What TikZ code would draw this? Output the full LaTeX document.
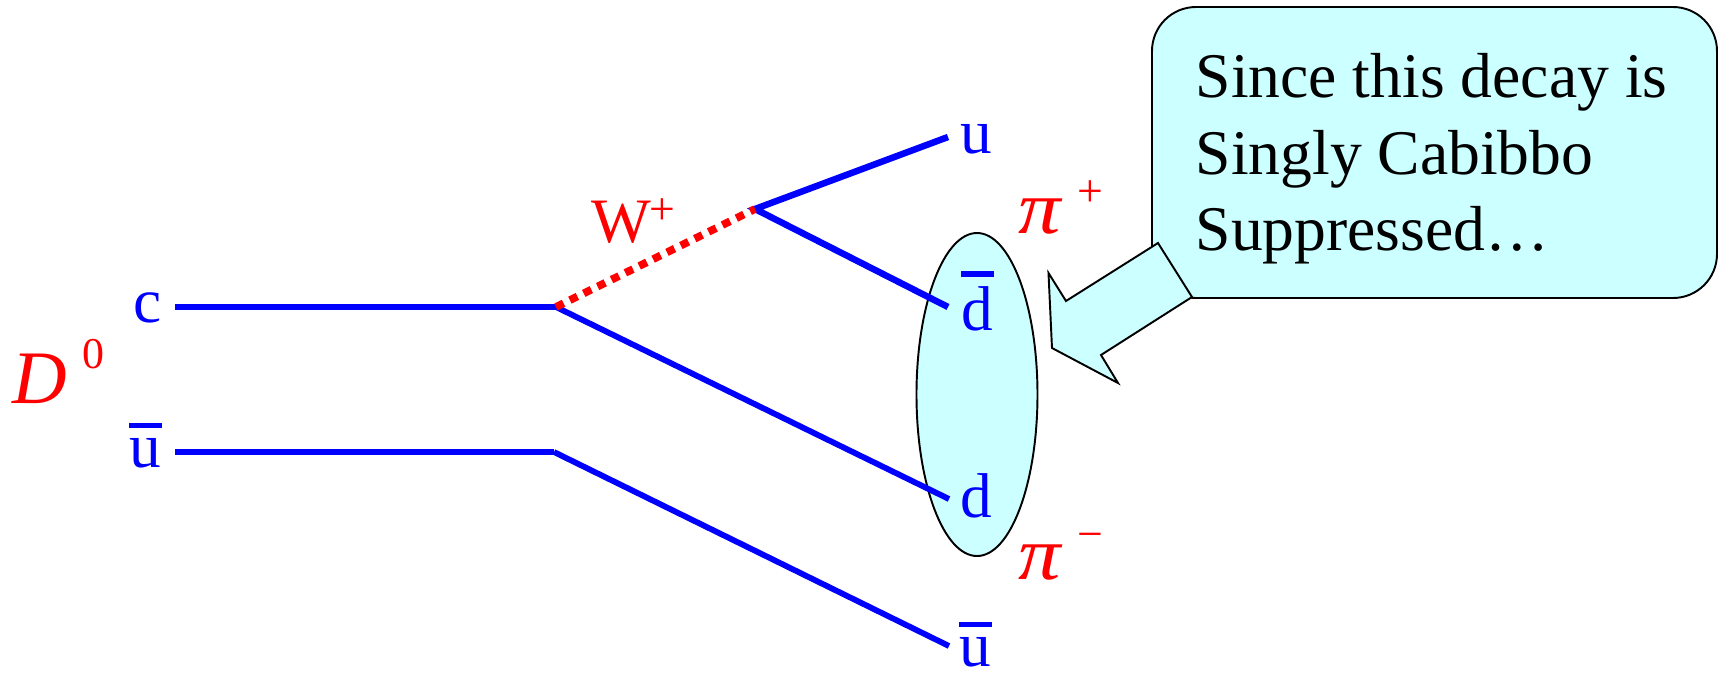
\documentclass[tikz,border=0pt]{standalone}
\usepackage{fontspec}
\setmainfont{Liberation Serif}
\usetikzlibrary{shapes.geometric}
\definecolor{palecyan}{HTML}{CCFFFF}
\newcommand{\barred}[2]{\rlap{\hspace{-0.2pt}\rule[#1]{9.4pt}{1.5pt}}#2}
\tikzset{
	quark/.style={blue,inner sep=0pt,anchor=base west,font=\fontsize{18}{20}\selectfont},
	meson/.style={red,inner sep=0pt,anchor=base west,font=\fontsize{21.5}{24}\selectfont\itshape},
	charge/.style={red,inner sep=0pt,anchor=base west,font=\fontsize{13}{15}\selectfont},
	outline/.style={draw=black,fill=palecyan,line width=0.55pt},
	fermion/.style={blue,line width=1.85pt},
	spectator/.style={blue,line width=1.65pt},
}
\begin{document}
\begin{tikzpicture}[line cap=butt,line join=miter]
	\useasboundingbox (0,0) rectangle (17.19,-6.72);
	\node[outline,ellipse,inner sep=0pt,minimum width=1.21cm,minimum height=3.23cm] (pion) at (9.77,-3.945) {};
	\node[outline,rectangle,rounded corners=0.44cm,inner sep=0pt,minimum width=5.65cm,minimum height=2.91cm] (callout) at (14.345,-1.525) {};
	\draw[outline,line join=miter] (11.58,-2.43) -- (10.66,-3.01) -- (10.485,-2.73) -- (10.52,-3.48)
	-- (11.18,-3.83) -- (11.01,-3.55) -- (11.92,-2.97) -- cycle;
	\node[inner sep=0pt,anchor=west,align=left,font=\fontsize{18.1}{21.8}\selectfont] (note) at (11.95,-1.59)
	{Since this decay is\\Singly Cabibbo\\Suppressed…};
	\coordinate (cstart) at (1.75,-3.07);
	\coordinate (ustart) at (1.75,-4.52);
	\coordinate (cvertex) at (5.56,-3.07);
	\coordinate (uvertex) at (5.54,-4.52);
	\coordinate (wvertex) at (7.55,-2.09);
	\coordinate (uend) at (9.48,-1.37);
	\coordinate (dbarend) at (9.48,-3.07);
	\coordinate (dend) at (9.49,-4.99);
	\coordinate (ubarend) at (9.49,-6.46);
	\draw[fermion] (cstart) -- (cvertex);
	\draw[fermion] (ustart) -- (uvertex);
	\draw[spectator] (cvertex) -- (dend);
	\draw[spectator] (uvertex) -- (ubarend);
	\draw[fermion] (uend) -- (wvertex) -- (dbarend);
	\draw[red,line width=2.2pt,dash pattern=on 2.4pt off 2pt] (cvertex) -- (wvertex);
	\node[quark] (c) at (1.33,-3.22) {c};
	\node[quark] (ubarin) at (1.29,-4.67) {\barred{11pt}{u}};
	\node[quark] (u) at (9.60,-1.53) {u};
	\node[quark] (dbar) at (9.61,-3.30) {\barred{15.2pt}{d}};
	\node[quark] (d) at (9.60,-5.17) {d};
	\node[quark] (ubarout) at (9.59,-6.66) {\barred{11pt}{u}};
	\node[quark,red] (w) at (5.91,-2.42) {W};
	\node[charge] (wplus) at (6.49,-2.24) {+};
	\node[meson] (dzero) at (0.12,-4.03) {D};
	\node[charge,font=\fontsize{12.5}{14}\selectfont] (zero) at (0.82,-3.68) {0};
	\node[meson,xscale=1.12,transform shape] (piplus) at (10.18,-2.33) {π};
	\node[charge] (plus) at (10.77,-2.06) {+};
	\node[meson,xscale=1.12,transform shape] (piminus) at (10.18,-5.79) {π};
	\node[charge] (minus) at (10.77,-5.49) {−};
\end{tikzpicture}
\end{document}
